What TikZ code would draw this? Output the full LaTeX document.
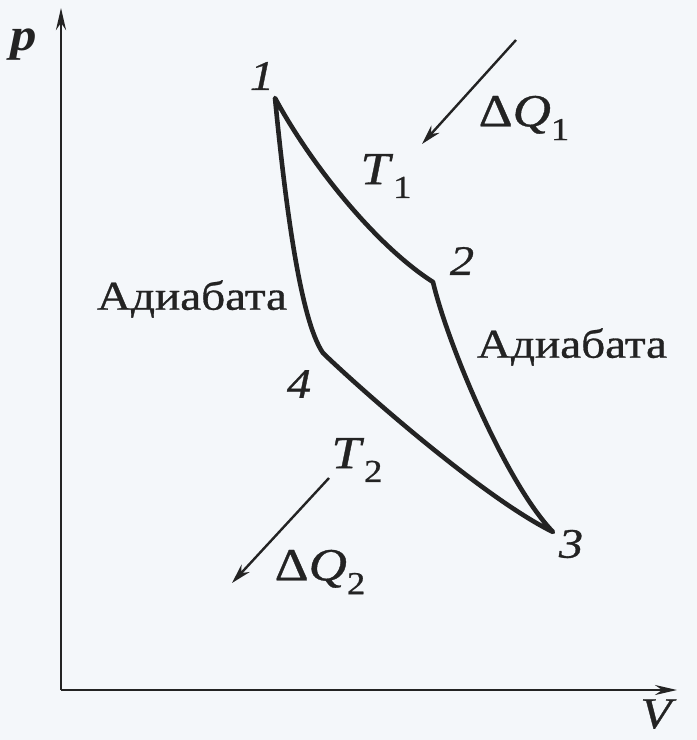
\documentclass[tikz,border=0pt]{standalone}
\usepackage{fontspec}
\setmainfont{Liberation Serif}[UprightFeatures={FakeBold=0.7},ItalicFeatures={FakeBold=0.7}]
\usetikzlibrary{arrows.meta}
\definecolor{paper}{RGB}{244,247,250}
\definecolor{ink}{RGB}{35,35,35}
\newcommand{\mysub}[1]{\raisebox{-0.3em}{\fontsize{32pt}{32pt}\selectfont #1}}
\newcommand{\wide}[1]{\scalebox{1.15}[1]{#1}}
\tikzset{
  axis/.style={ink, line width=2.6pt, -{Stealth[length=22pt,width=10pt]}},
  heat/.style={ink, line width=2.4pt, -{Stealth[length=20pt,width=11pt]}},
  cycle/.style={ink, line width=4.6pt, line join=round},
  lbl/.style={inner sep=0pt, text=ink},
  num/.style={lbl, font=\fontsize{42pt}{42pt}\selectfont\itshape},
  word/.style={lbl, font=\fontsize{41pt}{41pt}\selectfont},
  temp/.style={lbl, font=\fontsize{46pt}{46pt}\selectfont},
}
\begin{document}
\begin{tikzpicture}[x=1pt,y=-1pt]
\fill[paper] (0,0) rectangle (697,740);
\useasboundingbox (0,0) rectangle (697,740);
% axes
\coordinate (O) at (61,690);
\coordinate (ptop) at (61,8);
\coordinate (vend) at (677,690);
\draw[axis] (O) -- (ptop);
\draw[axis] (O) -- (vend);
\node[lbl, font=\fontsize{46pt}{46pt}\selectfont\bfseries\itshape] (p) at (24,45) {\wide{p}};
\node[lbl, font=\fontsize{44pt}{44pt}\selectfont\itshape] (V) at (656,714) {\wide{V}};
% cycle points
\coordinate (c1) at (275,98);
\coordinate (c2) at (433,282);
\coordinate (c3) at (553,532);
\coordinate (c4) at (323,353);
\draw[cycle] (c1) .. controls (310,163) and (375,245) .. (c2)
  .. controls (447,342) and (505,482) .. (c3)
  .. controls (482,497) and (357,386) .. (c4)
  .. controls (300,320) and (285,200) .. (c1) -- cycle;
% point labels
\node[num] (n1) at (262,76) {\wide{1}};
\node[num] (n2) at (462,261) {\wide{2}};
\node[num] (n3) at (571,544) {\wide{3}};
\node[num] (n4) at (299,384) {\wide{4}};
% adiabat labels
\node[word] (a1) at (192,299) {\wide{Адиабата}};
\node[word] (a2) at (572,347) {\wide{Адиабата}};
% temperatures
\node[temp] (T1) at (386,176) {\wide{\textit{T}\mysub{1}}};
\node[temp] (T2) at (357,460) {\wide{\textit{T}\mysub{2}}};
% heats
\node[temp] (Q1) at (524,118) {\wide{Δ\textit{Q}\mysub{1}}};
\node[temp] (Q2) at (320,572) {\wide{Δ\textit{Q}\mysub{2}}};
\coordinate (h1s) at (516,40);
\coordinate (h1e) at (422,144);
\coordinate (h2s) at (329,478);
\coordinate (h2e) at (232,583);
\draw[heat] (h1s) -- (h1e);
\draw[heat] (h2s) -- (h2e);
\end{tikzpicture}
\end{document}
